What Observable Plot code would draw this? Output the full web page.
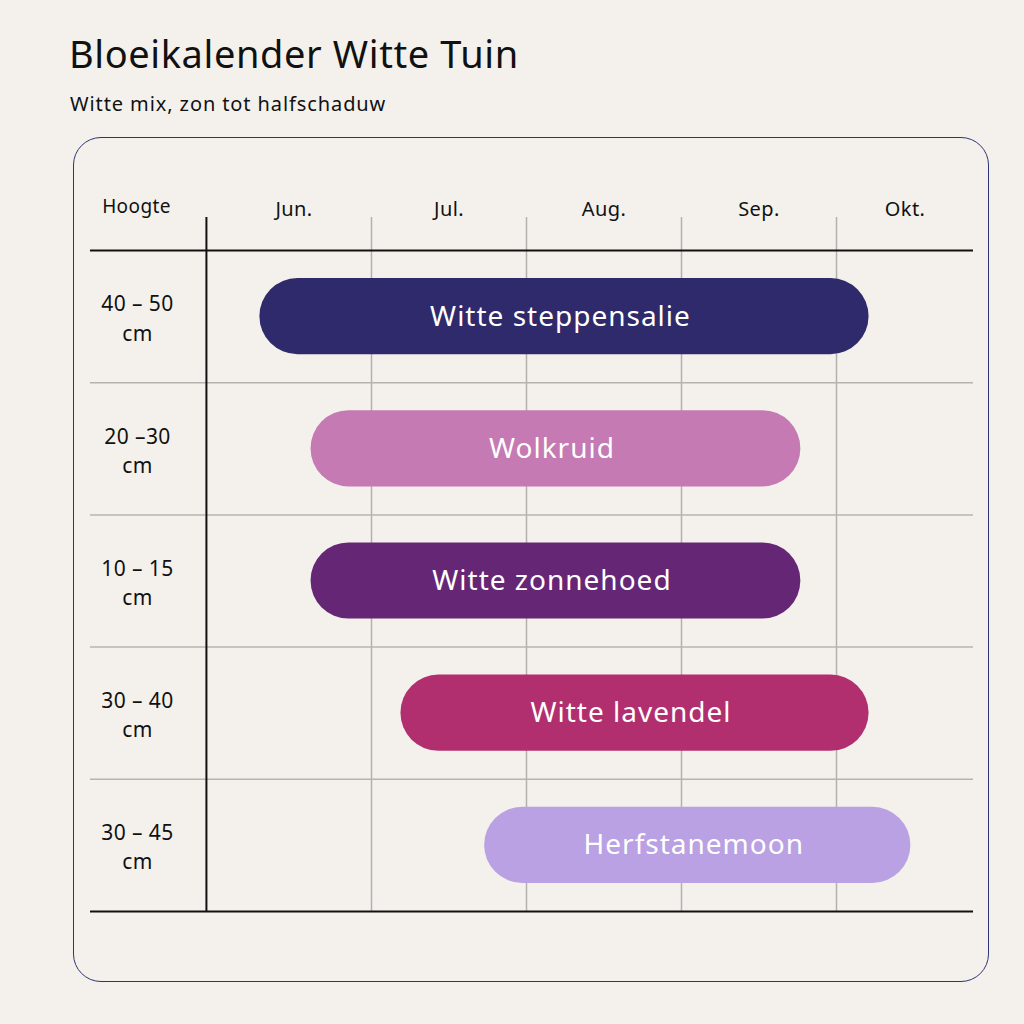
<!DOCTYPE html>
<html>
<head>
<meta charset="utf-8">
<script src="https://cdn.jsdelivr.net/npm/d3@7"></script>
<script src="https://cdn.jsdelivr.net/npm/@observablehq/plot@0.6"></script>
<style>
  html, body { margin: 0; padding: 0; background: #f4f1ec; }
  body { width: 1024px; height: 1024px; position: relative; overflow: hidden; font-family: "Noto Sans", sans-serif; }
  #title { position: absolute; left: 69px; top: 30px; font-size: 38px; line-height: 46px; color: #111; font-weight: 400; letter-spacing: 0.6px; }
  #subtitle { position: absolute; left: 70px; top: 91px; font-size: 20px; line-height: 26px; color: #111; letter-spacing: 0.9px; }
  #box { position: absolute; left: 73px; top: 137px; width: 916px; height: 845px; box-sizing: border-box; border: 1.5px solid #2b3575; border-radius: 28px; }
  #chart { position: absolute; left: 0; top: 137px; }
</style>
</head>
<body>
<div id="title">Bloeikalender Witte Tuin</div>
<div id="subtitle">Witte mix, zon tot halfschaduw</div>
<div id="box"></div>
<div id="chart"></div>
<script>
// Data
const plants = ["Witte steppensalie", "Wolkruid", "Witte zonnehoed", "Witte lavendel", "Herfstanemoon"];
const heights = ["40 – 50", "20 –30", "10 – 15", "30 – 40", "30 – 45"];
// bloom period in month units (6 = start of June, 7 = start of July, ...)
const bloomStart = [6.28, 6.61, 6.61, 7.19, 7.73];
const bloomEnd = [10.21, 9.77, 9.77, 10.21, 10.48];
const colors = ["#2f2a6b", "#c57ab3", "#662676", "#b22f6f", "#b9a1e3"];
const months = [6, 7, 8, 9, 10];
const monthLabels = ["Jun.", "Jul.", "Aug.", "Sep.", "Okt."];
const monthBoundaries = [7, 8, 9, 10];

const rows = plants.map((p, i) => ({
  i, plant: p, height: heights[i], start: bloomStart[i], end: bloomEnd[i], color: colors[i]
}));
const monthRows = months.map((m, i) => ({m, label: monthLabels[i]}));

const visibleEnd = 10.884;   // right edge of the table in month units
const dividerX = 5.935;      // label-column divider in month units
const headerY = -0.31;       // header row (above first row)

const chart = Plot.plot({
  width: 1024,
  height: 850,
  marginTop: 80,
  marginBottom: 76,
  marginLeft: 90,
  marginRight: 51,
  style: {background: "transparent", fontFamily: "'Noto Sans', sans-serif", color: "#111", letterSpacing: "0.4px"},
  x: {domain: [6, 11], range: [216, 991], axis: null},
  y: {domain: [0, 5], range: [113, 774], axis: null},
  marks: [
    Plot.ruleX(monthBoundaries, {stroke: "#b3b1ae", strokeWidth: 1.5}),
    Plot.ruleY([1, 2, 3, 4], {stroke: "#b6b4b0", strokeWidth: 1.5}),
    Plot.ruleY([0, 5], {stroke: "#111", strokeWidth: 2}),
    Plot.ruleX([dividerX], {stroke: "#111", strokeWidth: 2}),
    Plot.rect(rows, {
      x1: "start", x2: "end",
      y1: d => d.i, y2: d => d.i + 1,
      insetTop: 28, insetBottom: 28,
      rx: 38,
      fill: "color"
    }),
    Plot.text(rows, {
      x: d => (d.start + d.end) / 2,
      y: d => d.i + 0.5,
      text: "plant",
      fill: "white",
      fontSize: 28,
      dx: -4
    }),
    Plot.text(rows, {
      frameAnchor: "left",
      dx: 47,
      textAnchor: "middle",
      y: d => d.i + 0.5,
      text: d => d.height + "\ncm",
      fill: "#111",
      fontSize: 21,
      lineHeight: 1.4
    }),
    Plot.text(monthRows, {
      x: d => (d.m + Math.min(d.m + 1, visibleEnd)) / 2,
      y: () => headerY,
      text: "label",
      fill: "#111",
      fontSize: 20
    }),
    Plot.text(["Hoogte"], {
      frameAnchor: "left",
      dx: 46,
      textAnchor: "middle",
      y: () => headerY - 0.02,
      text: d => d,
      fill: "#111",
      fontSize: 19
    })
  ]
});
chart.querySelectorAll("g[aria-label='text'] text").forEach(t => {
  if (t.getAttribute("fill") === "white" || (t.parentNode && t.parentNode.getAttribute("fill") === "white")) t.style.letterSpacing = "1px";
});
document.getElementById("chart").appendChild(chart);
</script>
</body>
</html>
